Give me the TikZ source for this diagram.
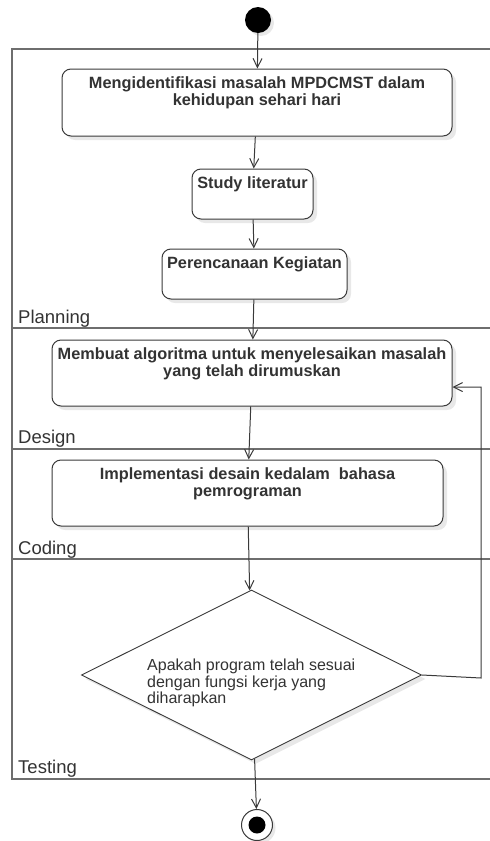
\documentclass[tikz,border=0pt]{standalone}
\usepackage{fontspec}
\setmainfont{Liberation Sans}
\usetikzlibrary{arrows.meta,positioning,shapes.geometric,shadows}
\definecolor{lanegray}{HTML}{6E6E6E}
\definecolor{boxline}{HTML}{3A3A3A}
\definecolor{txtgray}{HTML}{333333}

\tikzset{
  act/.style={draw=boxline, line width=1pt, rounded corners=9pt, fill=white,
    drop shadow={shadow xshift=4pt, shadow yshift=-4pt, fill=black!9, opacity=1}},
  acttxt/.style={font=\fontsize{16.3}{17}\selectfont\bfseries, text=txtgray,
    align=center, anchor=north, inner sep=0pt, yshift=-8pt},
  lanename/.style={font=\fontsize{18.5}{18.5}\selectfont, text=txtgray,
    anchor=base west, inner sep=0pt},
  flow/.style={draw=boxline, line width=1pt, -{Straight Barb[length=9pt,width=9pt]}},
}

\begin{document}
\begin{tikzpicture}[x=1pt, y=-1pt]
  \clip (0,0) rectangle (490,841);

  % swimlanes
  \draw[lanegray, line width=1.2pt] (12,49) rectangle (520,779);
  \foreach \ly in {328,449,559}
    \draw[lanegray, line width=1.2pt] (12,\ly) -- (520,\ly);
  \node[lanename] (planning) at (18,323) {Planning};
  \node[lanename] (design) at (18,443) {Design};
  \node[lanename] (coding) at (18,554) {Coding};
  \node[lanename] (testing) at (18,773) {Testing};

  % start / end
  \node[circle, fill=black, minimum size=26pt, inner sep=0pt,
    drop shadow={shadow xshift=3pt, shadow yshift=-3pt, fill=black!9, opacity=1}]
    (start) at (258,20) {};
  \node[circle, draw=boxline, line width=1pt, fill=white, minimum size=31pt, inner sep=0pt,
    drop shadow={shadow xshift=3pt, shadow yshift=-3pt, fill=black!9, opacity=1},
    path picture={\fill[black] (path picture bounding box.center) circle (8.5pt);}]
    (stop) at (257,825) {};

  % activities
  \node[act, minimum width=390pt, minimum height=67pt,
    label={[acttxt]north:Mengidentifikasi masalah MPDCMST dalam\\kehidupan sehari hari}]
    (ident) at (257,102.5) {};
  \node[act, minimum width=121pt, minimum height=50pt,
    label={[acttxt]north:Study literatur}]
    (study) at (252.5,194) {};
  \node[act, minimum width=185pt, minimum height=50pt,
    label={[acttxt]north:Perencanaan Kegiatan}]
    (plan) at (254.5,274) {};
  \node[act, minimum width=400pt, minimum height=66pt,
    label={[acttxt]north:Membuat algoritma untuk menyelesaikan masalah\\yang telah dirumuskan}]
    (algo) at (252,373) {};
  \node[act, minimum width=391pt, minimum height=66pt,
    label={[acttxt]north:Implementasi desain kedalam\ \ bahasa\\pemrograman}]
    (impl) at (247.5,493) {};

  % decision
  \node[diamond, draw=boxline, line width=0.9pt, fill=white, inner sep=0pt,
    minimum width=340pt, minimum height=170pt,
    drop shadow={shadow xshift=4pt, shadow yshift=-4pt, fill=black!9, opacity=1}]
    (check) at (251.5,675) {};
  \node[font=\fontsize{16}{16.5}\selectfont, text=txtgray, align=left,
    anchor=north west, inner sep=0pt]
    (asktext) at (147,659) {Apakah program telah sesuai\\dengan fungsi kerja yang\\diharapkan};

  \coordinate (loopbot) at (481,678);
  \coordinate (looptop) at (481,387);

  % flow
  \draw[flow] (start) -- (ident);
  \draw[flow] (ident) -- (study);
  \draw[flow] (study) -- (plan);
  \draw[flow] (plan) -- (algo);
  \draw[flow] (algo) -- (impl);
  \draw[flow] (impl) -- (check);
  \draw[flow] (check) -- (stop);
  \draw[flow] (check.east) -- (loopbot) -- (looptop) -- (looptop -| algo.east);
\end{tikzpicture}
\end{document}
